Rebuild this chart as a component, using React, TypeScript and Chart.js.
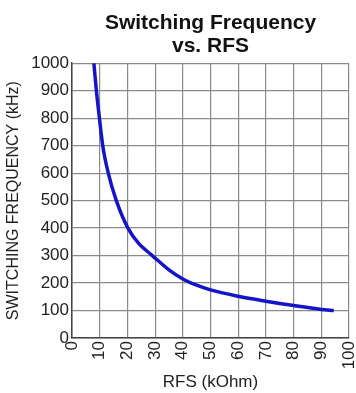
import React, { useEffect, useRef } from "react";
import { Chart, registerables } from "chart.js";

Chart.register(...registerables);

const rfsKOhm = [7.9, 8.8, 9.9, 11.1, 13.1, 16, 20.2, 24, 29, 35, 40, 45, 50, 60, 70, 80, 90, 94.5];
const freqKHz = [1000, 900, 800, 700, 600, 500, 400, 345, 300, 248, 215, 192, 175, 152, 134, 118, 104, 100];
const xTicks = [0, 10, 20, 30, 40, 50, 60, 70, 80, 90, 100];
const titleLines = ["Switching Frequency", "vs. RFS"];
const xTitle = "RFS (kOhm)";
const yTitle = "SWITCHING FREQUENCY (kHz)";

export default function App() {
  const ref = useRef<HTMLCanvasElement>(null);
  useEffect(() => {
    if (!ref.current) return;
    const font = "'Liberation Sans', Arial, Helvetica, sans-serif";
    const chart = new Chart(ref.current, {
      type: "line",
      data: {
        datasets: [
          {
            data: rfsKOhm.map((x, i) => ({ x, y: freqKHz[i] })),
            borderColor: "#1414c8",
            borderWidth: 3.5,
            pointRadius: 0,
            cubicInterpolationMode: "monotone",
            fill: false,
          },
        ],
      },
      options: {
        animation: false,
        responsive: false,
        devicePixelRatio: 1,
        layout: { padding: { left: 4, right: 7, top: 4, bottom: 0 } },
        plugins: {
          legend: { display: false },
          tooltip: { enabled: false },
          title: {
            display: true,
            text: titleLines,
            fullSize: false,
            color: "#111",
            font: { family: font, size: 21, weight: "bold", lineHeight: 1.1 },
            padding: { top: 8, bottom: 5 },
          },
        },
        scales: {
          x: {
            type: "linear",
            min: 0,
            max: 100,
            afterBuildTicks: (s: any) => {
              s.ticks = xTicks.map((v) => ({ value: v }));
            },
            afterFit: (s: any) => {
              s.height = 55;
              s.paddingLeft = 0;
              s.paddingRight = 0;
            },
            ticks: {
              minRotation: 90,
              maxRotation: 90,
              padding: 3,
              color: "#222",
              font: { family: font, size: 17 },
              callback: (v: any) => String(v),
            },
            grid: { color: "#8a8a8a", lineWidth: 1.2, drawTicks: false },
            border: { color: "#444", width: 1.5 },
            title: {
              display: true,
              text: xTitle,
              color: "#222",
              font: { family: font, size: 17 },
              padding: { top: 0, bottom: 0 },
            },
          },
          y: {
            min: 0,
            max: 1000,
            afterFit: (s: any) => {
              s.width = 68;
              s.paddingTop = 0;
              s.paddingBottom = 0;
            },
            ticks: {
              stepSize: 100,
              padding: 3,
              color: "#222",
              font: { family: font, size: 17 },
              callback: (v: any) => String(v),
            },
            grid: { color: "#8a8a8a", lineWidth: 1.2, drawTicks: false },
            border: { color: "#444", width: 1.5 },
            title: {
              display: true,
              text: yTitle,
              color: "#222",
              font: { family: font, size: 16 },
              padding: { top: 0, bottom: 0 },
            },
          },
        },
      },
    });
    return () => chart.destroy();
  }, []);
  return (
    <div style={{ position: "fixed", left: 0, top: 0, width: 356, height: 393, background: "#fff" }}>
      <canvas ref={ref} width={356} height={393} style={{ width: 356, height: 393 }} />
    </div>
  );
}
